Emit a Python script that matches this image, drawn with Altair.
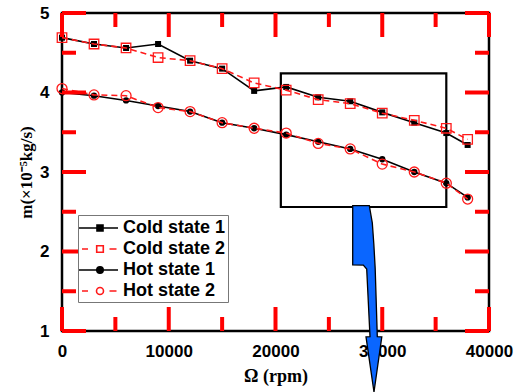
import altair as alt
import pandas as pd

# ---------------- data ----------------
rpm = [0, 3000, 6000, 9000, 12000, 15000, 18000, 21000, 24000, 27000, 30000, 33000, 36000, 38000]
cold1 = [4.69, 4.61, 4.56, 4.61, 4.40, 4.30, 4.02, 4.07, 3.94, 3.89, 3.75, 3.62, 3.49, 3.34]
cold2 = [4.69, 4.61, 4.56, 4.44, 4.40, 4.30, 4.12, 4.03, 3.91, 3.86, 3.74, 3.65, 3.55, 3.41]
hot1 = [4.00, 3.96, 3.90, 3.83, 3.76, 3.62, 3.55, 3.47, 3.38, 3.29, 3.16, 3.00, 2.86, 2.68]
hot2 = [4.05, 3.97, 3.96, 3.81, 3.76, 3.62, 3.55, 3.49, 3.36, 3.29, 3.10, 3.00, 2.86, 2.66]
series_names = ["Cold state 1", "Cold state 2", "Hot state 1", "Hot state 2"]

x_major = [0, 10000, 20000, 30000, 40000]
x_minor = [5000, 15000, 25000, 35000]
y_major = [1, 2, 3, 4, 5]
y_minor = [1.5, 2.5, 3.5, 4.5]

box_x = [20500, 36000]
box_y = [2.56, 4.24]

arrow_y = [2.576, 2.36, 2.10, 1.831, 1.829, 1.78, 0.929, 0.927, 0.233]
arrow_left = [27232, 27232, 27232, 27232, 28225, 28543, 28852, 28478, 29227]
arrow_right = [28787, 29068, 29208, 29321, 29321, 29340, 29537, 29958, 29227]

rows = []
for name, vals in zip(series_names, [cold1, cold2, hot1, hot2]):
    for r, v in zip(rpm, vals):
        rows.append({"rpm": r, "m": v, "series": name})
df = pd.DataFrame(rows)
box_df = pd.DataFrame({"bx": [box_x[0]], "bx2": [box_x[1]], "by": [box_y[0]], "by2": [box_y[1]]})
arrow_df = pd.DataFrame({"ay": arrow_y, "al": arrow_left, "ar": arrow_right})

W, H = 427, 318
X0, X1, Y0, Y1 = 0, 40000, 1, 5
xs = alt.Scale(domain=[X0, X1], nice=False, zero=False)
ys = alt.Scale(domain=[Y0, Y1], nice=False, zero=False)

LABEL_FONT = "Liberation Sans"
TITLE_FONT = "Liberation Serif"

x_label_axis = alt.Axis(orient="bottom", values=x_major, format="d", ticks=False,
                        domain=False, grid=False, labelFont=LABEL_FONT, labelFontWeight="bold",
                        labelFontSize=17, labelColor="black", labelPadding=12, labelFlush=False,
                        labelOverlap=False, title="Ω (rpm)", titleFont=TITLE_FONT,
                        titleFontWeight="bold", titleFontSize=18, titleColor="black", titlePadding=8)
y_label_axis = alt.Axis(orient="left", values=y_major, format="d", ticks=False,
                        domain=False, grid=False, labelFont=LABEL_FONT, labelFontWeight="bold",
                        labelFontSize=17, labelColor="black", labelPadding=13, labelFlush=False,
                        labelOverlap=False, title="m(×10⁻⁵kg/s)", titleFont=TITLE_FONT,
                        titleFontWeight="bold", titleFontSize=17, titleColor="black", titlePadding=4)

base = alt.Chart(df)
layers = []

layers.append(alt.Chart(box_df).mark_rect(fill="transparent", stroke="black", strokeWidth=2.2).encode(
    x=alt.X("bx:Q", scale=xs, axis=None), x2="bx2:Q",
    y=alt.Y("by:Q", scale=ys, axis=None), y2="by2:Q"))

styles = {
    "Cold state 1": dict(color="black", dash=None, shape="square", filled=True, size=36),
    "Hot state 1": dict(color="black", dash=None, shape="circle", filled=True, size=40),
    "Cold state 2": dict(color="#ff1a1a", dash=[6, 4], shape="square", filled=False, size=90),
    "Hot state 2": dict(color="#ff1a1a", dash=[6, 4], shape="circle", filled=False, size=100),
}
first = True
for name in ["Cold state 1", "Hot state 1", "Cold state 2", "Hot state 2"]:
    st = styles[name]
    d = base.transform_filter(alt.datum.series == name)
    lkw = dict(color=st["color"], strokeWidth=1.6)
    if st["dash"]:
        lkw["strokeDash"] = st["dash"]
    if first:
        xe = alt.X("rpm:Q", scale=xs, axis=x_label_axis)
        ye = alt.Y("m:Q", scale=ys, axis=y_label_axis)
        first = False
    else:
        xe = alt.X("rpm:Q", scale=xs, axis=None)
        ye = alt.Y("m:Q", scale=ys, axis=None)
    layers.append(d.mark_line(**lkw).encode(x=xe, y=ye))
    layers.append(d.mark_point(shape=st["shape"], filled=st["filled"], size=st["size"], opacity=1,
                               color=st["color"], strokeWidth=1.3).encode(
        x=alt.X("rpm:Q", scale=xs, axis=None), y=alt.Y("m:Q", scale=ys, axis=None)))

# inward tick marks (diagnostic colour and length)
MAJ_PX, MIN_PX = 24, 14
per_px_y = (Y1 - Y0) / H
per_px_x = (X1 - X0) / W
for vals, ln in [(x_major, MAJ_PX), (x_minor, MIN_PX)]:
    tdf = alt.Chart(pd.DataFrame({"t": vals}))
    for edge, inward in [(Y0, Y0 + ln * per_px_y), (Y1, Y1 - ln * per_px_y)]:
        layers.append(tdf.mark_rule(color="red", strokeWidth=4).encode(
            x=alt.X("t:Q", scale=xs, axis=None),
            y=alt.YDatum(edge, type="quantitative", scale=ys, axis=None),
            y2=alt.Y2Datum(inward)))
for vals, ln in [(y_major, MAJ_PX), (y_minor, MIN_PX)]:
    tdf = alt.Chart(pd.DataFrame({"t": vals}))
    for edge, inward in [(X0, X0 + ln * per_px_x), (X1, X1 - ln * per_px_x)]:
        layers.append(tdf.mark_rule(color="red", strokeWidth=4).encode(
            y=alt.Y("t:Q", scale=ys, axis=None),
            x=alt.XDatum(edge, type="quantitative", scale=xs, axis=None),
            x2=alt.X2Datum(inward)))

layers.append(alt.Chart(arrow_df).mark_area(orient="horizontal", fill="#0a66ff", stroke="black",
                                            strokeWidth=1.3, opacity=1).encode(
    y=alt.Y("ay:Q", scale=ys, axis=None),
    x=alt.X("al:Q", scale=xs, axis=None), x2="ar:Q"))

legend_paths = [
    "M-2.1,0H1.8M-0.3,-0.3H0.3V0.3H-0.3Z",
    "M-1.8,0H-1.2M0.95,0H1.65M-0.33,-0.33H0.33V0.33H-0.33Z",
    "M-2.1,0H1.8M-0.32,0A0.32,0.32,0,1,0,0.32,0A0.32,0.32,0,1,0,-0.32,0Z",
    "M-1.8,0H-1.2M0.95,0H1.65M-0.35,0A0.35,0.35,0,1,0,0.35,0A0.35,0.35,0,1,0,-0.35,0Z",
]
leg = alt.Legend(title=None, orient="none", legendX=16, legendY=202, padding=2, symbolOffset=9,
                 labelOffset=12, rowPadding=1, symbolSize=400, symbolStrokeWidth=1.6,
                 labelFont=LABEL_FONT, labelFontWeight="bold", labelFontSize=18, labelColor="black",
                 strokeColor="#777777", fillColor="white", labelLimit=300)
layers.append(base.transform_filter("false").mark_point(filled=True, opacity=1).encode(
    shape=alt.Shape("series:N", scale=alt.Scale(domain=series_names, range=legend_paths), legend=leg),
    stroke=alt.Stroke("series:N", scale=alt.Scale(domain=series_names,
                                                  range=["black", "#ff1a1a", "black", "#ff1a1a"]), legend=leg),
    fill=alt.Fill("series:N", scale=alt.Scale(domain=series_names,
                                              range=["black", "white", "black", "white"]), legend=leg),
))

chart = alt.layer(*layers).resolve_axis(x="independent", y="independent").properties(
    width=W, height=H,
    autosize=alt.AutoSizeParams(type="none"),
    padding={"left": 62, "top": 13, "right": 35, "bottom": 61},
    background="white",
).configure_view(stroke="black", strokeWidth=2.5)

chart.save("out.html", embed_options={"renderer": "svg", "actions": False})
